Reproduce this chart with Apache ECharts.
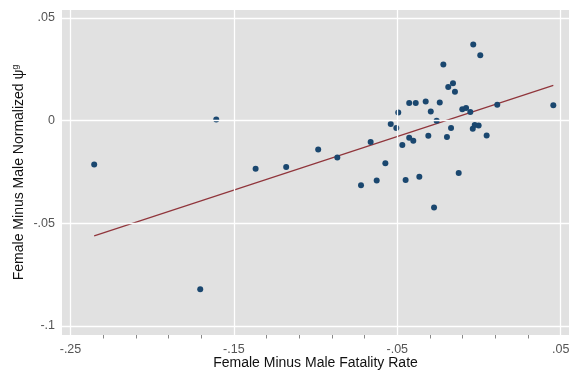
<!DOCTYPE html>
<html>
<head>
<meta charset="utf-8">
<script src="https://cdn.jsdelivr.net/npm/echarts@6/dist/echarts.min.js"></script>
<style>html,body{margin:0;padding:0;background:#fff;overflow:hidden}#c{width:569px;height:372px;display:block}</style>
</head>
<body>
<div id="c"></div>
<script>
// Data
const xValues = [-0.2355,-0.1608,-0.1706,-0.1367,-0.1180,-0.0984,-0.0867,-0.0722,-0.0626,-0.0573,-0.0663,-0.0540,-0.0506,-0.0494,-0.0469,-0.0449,-0.0427,-0.0387,-0.0427,-0.0402,-0.0365,-0.0326,-0.0295,-0.0310,-0.0259,-0.0240,-0.0275,-0.0218,-0.0196,-0.0188,-0.0159,-0.0147,-0.0171,-0.0124,-0.0102,-0.0079,-0.0053,-0.0035,0.0008,-0.0038,-0.0026,-0.0002,0.0047,0.0112,0.0455];
const yValues = [-0.0213,0.0006,-0.0821,-0.0234,-0.0226,-0.0140,-0.0180,-0.0314,-0.0291,-0.0208,-0.0104,-0.0016,-0.0036,0.0040,-0.0119,-0.0289,0.0086,0.0086,-0.0083,-0.0098,-0.0273,0.0093,0.0045,-0.0073,0.0000,0.0089,-0.0423,0.0273,-0.0080,0.0164,0.0182,0.0141,-0.0036,-0.0255,0.0055,0.0062,0.0042,0.0371,0.0319,-0.0040,-0.0021,-0.0024,-0.0072,0.0077,0.0075];
const fitX = [-0.2355, 0.0455];
const fitY = [-0.0561, 0.0172];
const xTicks = [-0.25, -0.15, -0.05, 0.05];
const xTickLabels = ['-.25', '-.15', '-.05', '.05'];
const xMinorTicks = [-0.23,-0.21,-0.19,-0.17,-0.13,-0.11,-0.09,-0.07,-0.03,-0.01,0.01,0.03];
const yTicks = [0.05, 0, -0.05, -0.1];
const yTickLabels = ['.05', '0', '-.05', '-.1'];

const xMin = -0.2552, xMax = 0.0551, yMin = -0.1044, yMax = 0.0539;
const fmt = (vals, labels) => v => { for (let i = 0; i < vals.length; i++) if (Math.abs(v - vals[i]) < 1e-6) return labels[i]; return ''; };
const font = 'Liberation Sans, Arial, sans-serif';

const chart = echarts.init(document.getElementById('c'), null, {renderer: 'canvas'});
chart.setOption({
  animation: false,
  backgroundColor: '#ffffff',
  grid: {left: 62, right: 0, top: 10, bottom: 37, show: true, backgroundColor: '#e1e1e1', borderWidth: 0, outerBoundsMode: 'none', containLabel: false},
  xAxis: [{
    type: 'value', min: xMin, max: xMax,
    name: 'Female Minus Male Fatality Rate', nameLocation: 'middle', nameGap: 20, nameMoveOverlap: false,
    nameTextStyle: {fontFamily: font, fontSize: 14, lineHeight: 16, color: '#111'},
    axisLine: {show: false},
    axisTick: {show: true, length: 6, customValues: xTicks, lineStyle: {color: '#888'}},
    axisLabel: {customValues: xTicks, formatter: fmt(xTicks, xTickLabels), fontFamily: font, fontSize: 12.5, color: '#555', margin: 8},
    splitLine: {show: false}
  }, {
    type: 'value', min: xMin, max: xMax, position: 'bottom',
    axisLine: {show: false},
    axisTick: {show: true, length: 3.5, customValues: xMinorTicks, lineStyle: {color: '#888'}},
    axisLabel: {show: false},
    splitLine: {show: false}
  }],
  yAxis: {
    type: 'value', min: yMin, max: yMax,
    name: 'Female Minus Male Normalized ψ{sup|g}', nameLocation: 'middle', nameGap: 35, nameMoveOverlap: false,
    nameTextStyle: {fontFamily: font, fontSize: 14, lineHeight: 16, color: '#111',
      rich: {sup: {fontFamily: font, fontSize: 8.5, lineHeight: 9, color: '#111', verticalAlign: 'top'}}},
    axisLine: {show: false},
    axisTick: {show: true, length: 5, customValues: yTicks, lineStyle: {color: '#888'}},
    axisLabel: {customValues: yTicks, formatter: fmt(yTicks, yTickLabels), fontFamily: font, fontSize: 12.5, color: '#555', margin: 7},
    splitLine: {show: false}
  },
  series: [{
    type: 'line', data: [], xAxisIndex: 0,
    silent: true,
    markLine: {
      symbol: 'none', silent: true, label: {show: false},
      lineStyle: {color: '#ffffff', width: 1.3, type: 'solid'},
      data: xTicks.map(v => ({xAxis: v})).concat(yTicks.map(v => ({yAxis: v})))
    }
  }, {
    type: 'line', xAxisIndex: 0,
    data: fitX.map((x, i) => [x, fitY[i]]),
    symbol: 'none', lineStyle: {color: '#90353b', width: 1.2}, z: 3
  }, {
    type: 'scatter', xAxisIndex: 0,
    data: xValues.map((x, i) => [x, yValues[i]]),
    symbolSize: 6, itemStyle: {color: '#1a476f', opacity: 1}, z: 4
  }]
});
</script>
</body>
</html>
